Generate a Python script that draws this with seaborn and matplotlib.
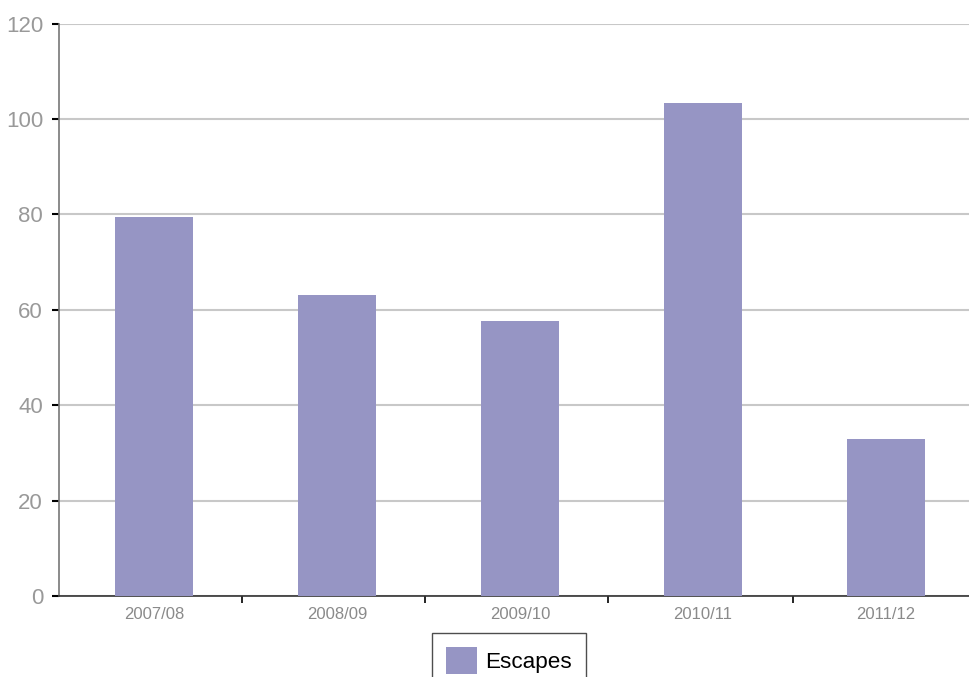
import matplotlib
matplotlib.use("Agg")
import matplotlib.pyplot as plt
import seaborn as sns
import pandas as pd
import numpy as np

# Data
categories = ["2007/08", "2008/09", "2009/10", "2010/11", "2011/12"]
escapes = [79.4, 63.1, 57.6, 103.3, 32.9]
series_name = "Escapes"

sns.set_theme(style="white")
plt.rcParams["font.family"] = ["Liberation Sans", "DejaVu Sans"]

df = pd.DataFrame({"period": categories, "value": escapes})

W, H = 969, 677
fig = plt.figure(figsize=(W / 100, H / 100), dpi=100)
ax = fig.add_axes([59 / W, (677 - 596) / H, (969 - 59) / W, (596 - 23.5) / H])

bar_color = "#9695c4"
sns.barplot(data=df, x="period", y="value", color=bar_color, width=0.43,
            saturation=1, label=series_name, ax=ax, zorder=3, linewidth=0,
            edgecolor="none")

ax.set_ylim(0, 120)
ax.set_xlim(-0.52, 4.454)
ax.set_yticks(np.arange(0, 121, 20))
ax.grid(axis="y", color="#c8c8c8", linewidth=1.5, zorder=0)
ax.grid(axis="x", visible=False)
ax.set_axisbelow(True)
ax.set_xlabel("")
ax.set_ylabel("")

for s in ["top", "right"]:
    ax.spines[s].set_visible(False)
ax.spines["bottom"].set_color("#333333")
ax.spines["bottom"].set_linewidth(1.2)
ax.spines["left"].set_color("#777777")
ax.spines["left"].set_linewidth(1.2)

ax.tick_params(axis="y", which="major", length=5, width=1.5, color="black",
               labelsize=16, labelcolor="#999999", pad=6.5, left=True)
ax.tick_params(axis="x", which="major", length=0, labelsize=12,
               labelcolor="#8a8a8a", pad=8)
ax.set_xticks([0.48, 1.48, 2.48, 3.49], minor=True)
ax.tick_params(axis="x", which="minor", length=5, width=1.2, color="black",
               bottom=True)

handles, labels = ax.get_legend_handles_labels()
if ax.get_legend() is not None:
    ax.get_legend().remove()
leg = fig.legend(handles[:1], labels[:1], loc="upper left",
                 bbox_to_anchor=(432 / W, (677 - 633) / H),
                 fontsize=16.2, frameon=True, fancybox=False, shadow=False,
                 handlelength=1.4, handleheight=1.45, handletextpad=0.35,
                 borderpad=0.62, borderaxespad=0, labelcolor="black")
leg.get_frame().set_edgecolor("#222222")
leg.get_frame().set_linewidth(1.0)
leg.get_frame().set_facecolor("white")

fig.savefig("out.png", dpi=100)
